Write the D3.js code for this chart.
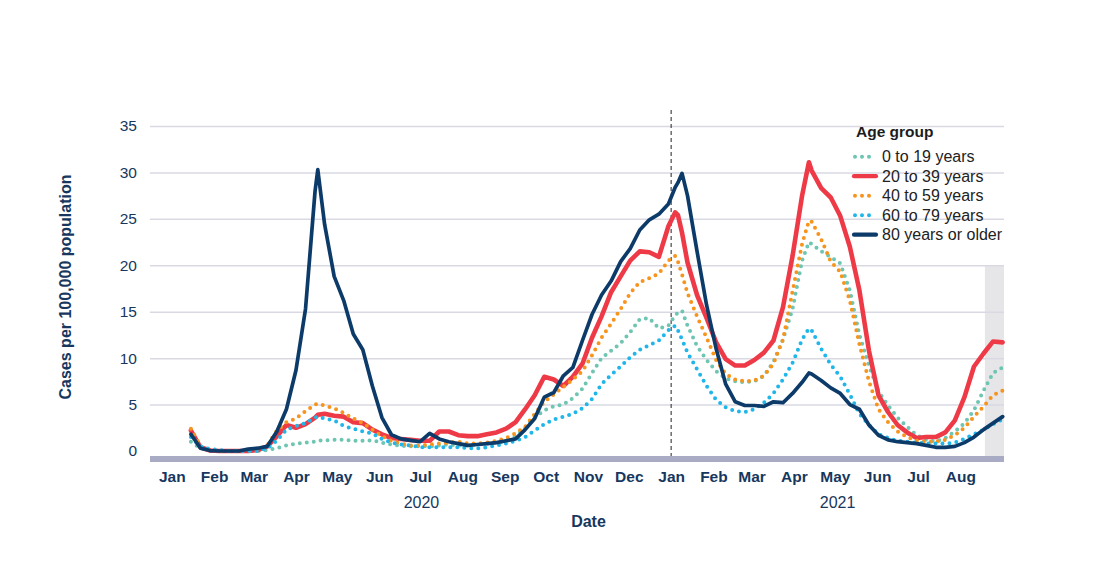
<!DOCTYPE html>
<html><head><meta charset="utf-8">
<script src="https://cdn.jsdelivr.net/npm/d3@7"></script>
<style>
body{margin:0;background:#fff;}
svg{display:block;font-family:"Liberation Sans",Arial,Helvetica,sans-serif;}
</style></head><body>
<svg id="chart" width="1103" height="588"></svg>
<script>
// ---------- DATA ----------
const dates = [
"2020-01-15","2020-01-22","2020-01-29","2020-02-05","2020-02-12","2020-02-19","2020-02-26","2020-03-04","2020-03-11","2020-03-18",
"2020-03-25","2020-04-01","2020-04-08","2020-04-15","2020-04-17","2020-04-22","2020-04-29","2020-05-06","2020-05-13","2020-05-20",
"2020-05-27","2020-06-03","2020-06-10","2020-06-17","2020-06-24","2020-07-01","2020-07-08","2020-07-15","2020-07-22","2020-07-29",
"2020-08-05","2020-08-12","2020-08-19","2020-08-26","2020-09-02","2020-09-09","2020-09-16","2020-09-23","2020-09-30","2020-10-07",
"2020-10-14","2020-10-21","2020-10-28","2020-11-04","2020-11-11","2020-11-18","2020-11-25","2020-12-02","2020-12-09","2020-12-16",
"2020-12-23","2020-12-30","2021-01-04","2021-01-06","2021-01-09","2021-01-13","2021-01-20","2021-01-27","2021-02-03","2021-02-10",
"2021-02-17","2021-02-24","2021-03-03","2021-03-10","2021-03-17","2021-03-24","2021-03-31","2021-04-07","2021-04-12","2021-04-14",
"2021-04-21","2021-04-28","2021-05-05","2021-05-12","2021-05-19","2021-05-26","2021-06-02","2021-06-09","2021-06-16","2021-06-23",
"2021-06-30","2021-07-07","2021-07-14","2021-07-21","2021-07-28","2021-08-04","2021-08-11","2021-08-18","2021-08-25","2021-09-01"];

const age0to19 = [
1.0,0.3,0.05,0,0,0,0,0,0.1,0.3,
0.6,0.8,0.9,1.0,1.1,1.15,1.2,1.2,1.1,1.1,
1.15,0.9,0.7,0.55,0.5,0.5,0.5,0.6,0.7,0.6,
0.6,0.7,0.8,0.9,1.1,1.6,2.5,3.6,4.4,4.8,
5.0,5.7,6.7,8.4,10.0,10.8,11.6,12.8,14.2,14.3,
13.2,13.5,14.6,14.9,15.1,13.5,11.3,9.8,8.6,7.8,
7.5,7.4,7.5,8.1,9.6,12.0,15.3,20.5,22.5,22.3,
21.5,20.9,20.2,17.3,12.5,9.2,6.4,4.9,3.6,2.6,
1.7,1.2,1.0,1.4,2.1,3.0,4.4,6.5,8.4,9.0];

const age20to39 = [
2.2,0.4,0.05,0,0,0,0,0.1,0.5,1.6,
2.8,2.5,2.9,3.6,3.9,4.0,3.8,3.7,3.1,3.0,
2.3,1.8,1.4,1.3,1.2,1.1,1.1,2.1,2.1,1.7,
1.6,1.6,1.8,2.0,2.4,3.1,4.5,6.0,8.0,7.7,
7.0,8.0,9.4,12.2,14.5,17.1,18.8,20.5,21.5,21.4,
20.9,24.2,25.7,25.4,23.5,20.3,16.8,14.3,11.7,9.9,
9.2,9.2,9.8,10.6,11.9,15.5,21.0,27.5,31.1,30.2,
28.3,27.3,25.3,22.0,17.3,10.8,6.0,4.2,2.8,2.0,
1.4,1.5,1.5,2.0,3.3,5.8,9.1,10.5,11.8,11.7];

const age40to59 = [
2.4,0.5,0.1,0,0,0,0,0.1,0.6,2.2,
3.1,3.5,4.3,5.0,5.1,4.9,4.6,4.1,3.5,3.0,
2.3,1.6,1.1,0.8,0.6,0.6,0.7,0.8,0.9,1.0,
0.8,0.8,0.9,1.1,1.4,1.9,2.6,4.0,5.3,6.1,
6.9,7.7,8.6,10.3,12.2,13.7,15.3,17.0,18.2,18.6,
19.1,20.5,21.0,20.4,19.0,17.0,14.5,12.2,9.8,8.3,
7.7,7.5,7.6,8.1,9.4,12.0,17.2,22.3,24.8,24.7,
22.8,20.4,19.3,16.2,11.5,7.5,4.5,3.1,2.1,1.5,
1.1,1.0,1.0,1.2,1.7,2.5,3.7,4.8,6.0,6.5];

const age60to79 = [
1.5,0.5,0.2,0.1,0,0,0,0,0.3,1.1,
2.3,2.7,3.0,3.6,3.7,3.5,3.3,2.7,2.4,2.1,
1.9,1.3,0.9,0.7,0.6,0.4,0.4,0.4,0.4,0.4,
0.3,0.3,0.4,0.6,0.8,1.1,1.5,2.2,2.9,3.4,
3.7,4.0,4.6,5.6,7.2,8.2,9.1,10.1,10.9,11.4,
11.9,13.0,13.5,13.0,12.0,10.6,8.8,7.0,5.5,4.7,
4.3,4.2,4.5,5.2,6.2,7.7,9.5,12.0,13.2,13.0,
11.0,9.3,8.0,6.1,4.0,2.8,1.8,1.4,1.1,1.0,
0.9,0.8,0.8,0.8,0.9,1.3,1.8,2.3,2.9,3.4];

const age80plus = [
1.8,0.3,0.05,0,0,0,0.2,0.3,0.5,2.1,
4.5,8.7,15.3,28.0,30.3,24.4,18.8,16.2,12.6,10.9,
7.0,3.6,1.75,1.3,1.15,1.0,1.9,1.3,1.0,0.8,
0.6,0.7,0.8,0.9,1.1,1.3,2.3,3.5,5.8,6.3,
8.1,9.0,11.9,14.7,16.8,18.3,20.4,21.8,23.8,24.9,
25.5,26.6,28.4,28.9,29.9,27.5,21.5,15.7,11.0,7.2,
5.3,4.9,4.9,4.8,5.3,5.2,6.2,7.4,8.4,8.3,
7.6,6.8,6.2,5.0,4.5,2.8,1.7,1.2,1.0,0.9,
0.8,0.6,0.4,0.4,0.5,0.9,1.5,2.3,3.0,3.7];

const seriesNames = ["0 to 19 years","20 to 39 years","40 to 59 years","60 to 79 years","80 years or older"];
const seriesValues = [age0to19, age20to39, age40to59, age60to79, age80plus];
const seriesColors = ["#6dc5b2","#ee3a47","#f7941d","#20b6ea","#0d3b69"];
const seriesDotted = [true,false,true,true,false];

const yTickValues = [0,5,10,15,20,25,30,35];
const yearLabels = [{text:"2020", date:"2020-07-02"},{text:"2021", date:"2021-05-03"}];
const provisionalStart = "2021-08-19";
const yearBreak = "2021-01-01";

// ---------- CHART ----------
const parse = d3.timeParse("%Y-%m-%d");
const svg = d3.select("#chart");
const navy = "#17375e";
const x = d3.scaleTime().domain([parse("2019-12-16"), parse("2021-09-02")]).range([150, 1004]);
const y = d3.scaleLinear().domain([0, 35]).range([451, 126]);

// provisional shading
svg.append("rect")
  .attr("x", x(parse(provisionalStart)))
  .attr("y", y(20))
  .attr("width", x.range()[1] - x(parse(provisionalStart)))
  .attr("height", 456 - y(20))
  .attr("fill", "#e6e6e9");

// gridlines
const grid = svg.append("g").attr("transform", "translate(150,0)")
  .call(d3.axisLeft(y).tickValues(yTickValues.filter(v => v > 0)).tickSize(-854).tickFormat(""));
grid.select(".domain").remove();
grid.selectAll("line").attr("stroke", "#d9d9e3").attr("stroke-width", 1.5);

// y axis labels
const yAxis = svg.append("g").attr("transform", "translate(150,0)")
  .call(d3.axisLeft(y).tickValues(yTickValues).tickSize(0).tickPadding(13));
yAxis.select(".domain").remove();
yAxis.selectAll("text").attr("font-size", "15.5px").attr("fill", navy)
  .attr("font-family", "'Liberation Sans',Arial,sans-serif");

// bottom band
svg.append("rect").attr("x", 150).attr("y", 456).attr("width", 854).attr("height", 6).attr("fill", "#a9abc5");

// dashed year line
svg.append("line")
  .attr("x1", x(parse(yearBreak))).attr("x2", x(parse(yearBreak)))
  .attr("y1", 110).attr("y2", 456)
  .attr("stroke", "#222").attr("stroke-width", 1).attr("stroke-dasharray", "4,3");

// x axis
const months = d3.timeMonth.range(parse("2020-01-01"), parse("2021-09-01"));
const xAxis = svg.append("g").attr("transform", "translate(0,466)")
  .call(d3.axisBottom(x).tickValues(months).tickFormat(d3.timeFormat("%b")).tickSize(0).tickPadding(5));
xAxis.select(".domain").remove();
xAxis.selectAll("text").attr("font-size", "15.5px").attr("font-weight", "bold").attr("fill", navy)
  .attr("font-family", "'Liberation Sans',Arial,sans-serif");

// year labels
svg.selectAll("text.year").data(yearLabels).enter().append("text")
  .attr("class", "year")
  .attr("x", d => x(parse(d.date))).attr("y", 508)
  .attr("text-anchor", "middle").attr("font-size", "16px").attr("fill", navy)
  .text(d => d.text);

// axis titles
svg.append("text").attr("x", 588.5).attr("y", 527).attr("text-anchor", "middle")
  .attr("font-size", "16px").attr("font-weight", "bold").attr("fill", navy).text("Date");
svg.append("text").attr("transform", "translate(71,287) rotate(-90)").attr("text-anchor", "middle")
  .attr("font-size", "16px").attr("font-weight", "bold").attr("fill", navy).text("Cases per 100,000 population");

// lines
const line = d3.line().x(d => x(d.date)).y(d => y(d.v));
seriesValues.forEach((vals, i) => {
  const pts = vals.map((v, j) => ({date: parse(dates[j]), v: v}));
  const p = svg.append("path").datum(pts)
    .attr("fill", "none")
    .attr("stroke", seriesColors[i])
    .attr("d", line);
  if (seriesDotted[i]) {
    p.attr("stroke-width", 4).attr("stroke-dasharray", "0,7").attr("stroke-linecap", "round");
  } else {
    p.attr("stroke-width", i === 1 ? 4.6 : 3.7).attr("stroke-linejoin", "round").attr("stroke-linecap", "round");
  }
});

// legend
const lg = svg.append("g");
lg.append("text").attr("x", 856).attr("y", 137).attr("font-size", "15.5px").attr("font-weight", "bold")
  .attr("fill", "#1d1d1d").text("Age group");
seriesNames.forEach((name, i) => {
  const cy = 156.7 + i * 19.5;
  const l = lg.append("line").attr("y1", cy).attr("y2", cy).attr("stroke", seriesColors[i]);
  if (seriesDotted[i]) {
    l.attr("x1", 855).attr("x2", 876).attr("stroke-width", 4).attr("stroke-dasharray", "0,7").attr("stroke-linecap", "round");
  } else {
    l.attr("x1", 854).attr("x2", 876).attr("stroke-width", 4.2).attr("stroke-linecap", "round");
  }
  lg.append("text").attr("x", 882).attr("y", cy + 5.6).attr("font-size", "16px").attr("fill", "#222")
    .text(name);
});
</script>
</body></html>
